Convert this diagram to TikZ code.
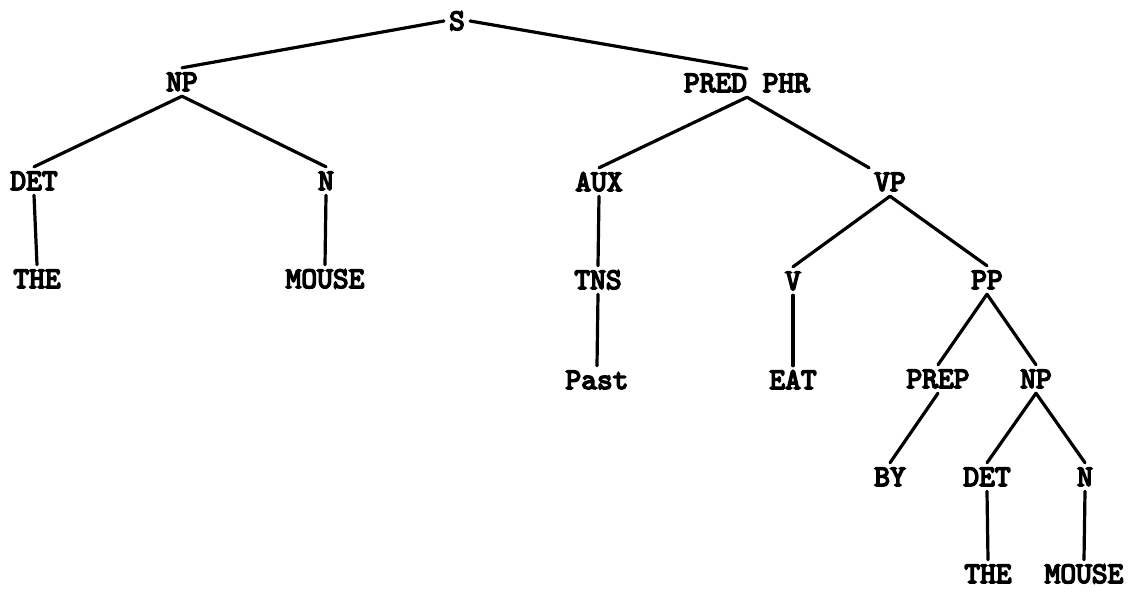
\documentclass[tikz,border=0pt]{standalone}
\usepackage{fontspec}
\newfontfamily\treefont{lmmono10-regular.otf}[FakeBold=5]
\begin{document}
\begin{tikzpicture}[x=1pt,y=-1pt,
  lbl/.style={font=\fontsize{30}{31}\selectfont\treefont, inner sep=5pt, text height=18pt, text depth=0pt},
  edge/.style={line width=3.2pt, line cap=round}]
\useasboundingbox (0,0) rectangle (1144,592);
\node[lbl] (S) at (457,21) {S};
\node[lbl] (NPa) at (182,82) {NP};
\node[lbl] (PRED) at (747,83) {PRED PHR};
\node[lbl] (DETa) at (34,181) {DET};
\node[lbl] (Na) at (326,181) {N};
\node[lbl] (AUX) at (599,182) {AUX};
\node[lbl] (VP) at (890,182) {VP};
\node[lbl] (THEa) at (37,279) {THE};
\node[lbl] (MOUSEa) at (325,279) {MOUSE};
\node[lbl] (TNS) at (598,280) {TNS};
\node[lbl] (V) at (793,281) {V};
\node[lbl] (PP) at (987,280) {PP};
\node[lbl] (Past) at (597,380) {Past};
\node[lbl] (EAT) at (793,380) {EAT};
\node[lbl] (PREP) at (938,379) {PREP};
\node[lbl] (NPb) at (1036,379) {NP};
\node[lbl] (BY) at (890,477) {BY};
\node[lbl] (DETb) at (987,477) {DET};
\node[lbl] (Nb) at (1085,477) {N};
\node[lbl] (THEb) at (988,574) {THE};
\node[lbl] (MOUSEb) at (1084,574) {MOUSE};
\draw[edge] (S.west) -- (NPa.north);
\draw[edge] (S.east) -- (PRED.north);
\draw[edge] (NPa.south) -- (DETa.north);
\draw[edge] (NPa.south) -- (Na.north);
\draw[edge] (PRED.south) -- (AUX.north);
\draw[edge] (PRED.south) -- (VP.north west);
\draw[edge] (DETa.south) -- (THEa.north);
\draw[edge] (Na.south) -- (MOUSEa.north);
\draw[edge] (AUX.south) -- (TNS.north);
\draw[edge] (VP.south) -- (V.north);
\draw[edge] (VP.south) -- (PP.north);
\draw[edge] (TNS.south) -- (Past.north);
\draw[edge] (V.south) -- (EAT.north);
\draw[edge] (PP.south) -- (PREP.north);
\draw[edge] (PP.south) -- (NPb.north);
\draw[edge] (PREP.south) -- (BY.north);
\draw[edge] (NPb.south) -- (DETb.north);
\draw[edge] (NPb.south) -- (Nb.north);
\draw[edge] (DETb.south) -- (THEb.north);
\draw[edge] (Nb.south) -- (MOUSEb.north);
\end{tikzpicture}
\end{document}
